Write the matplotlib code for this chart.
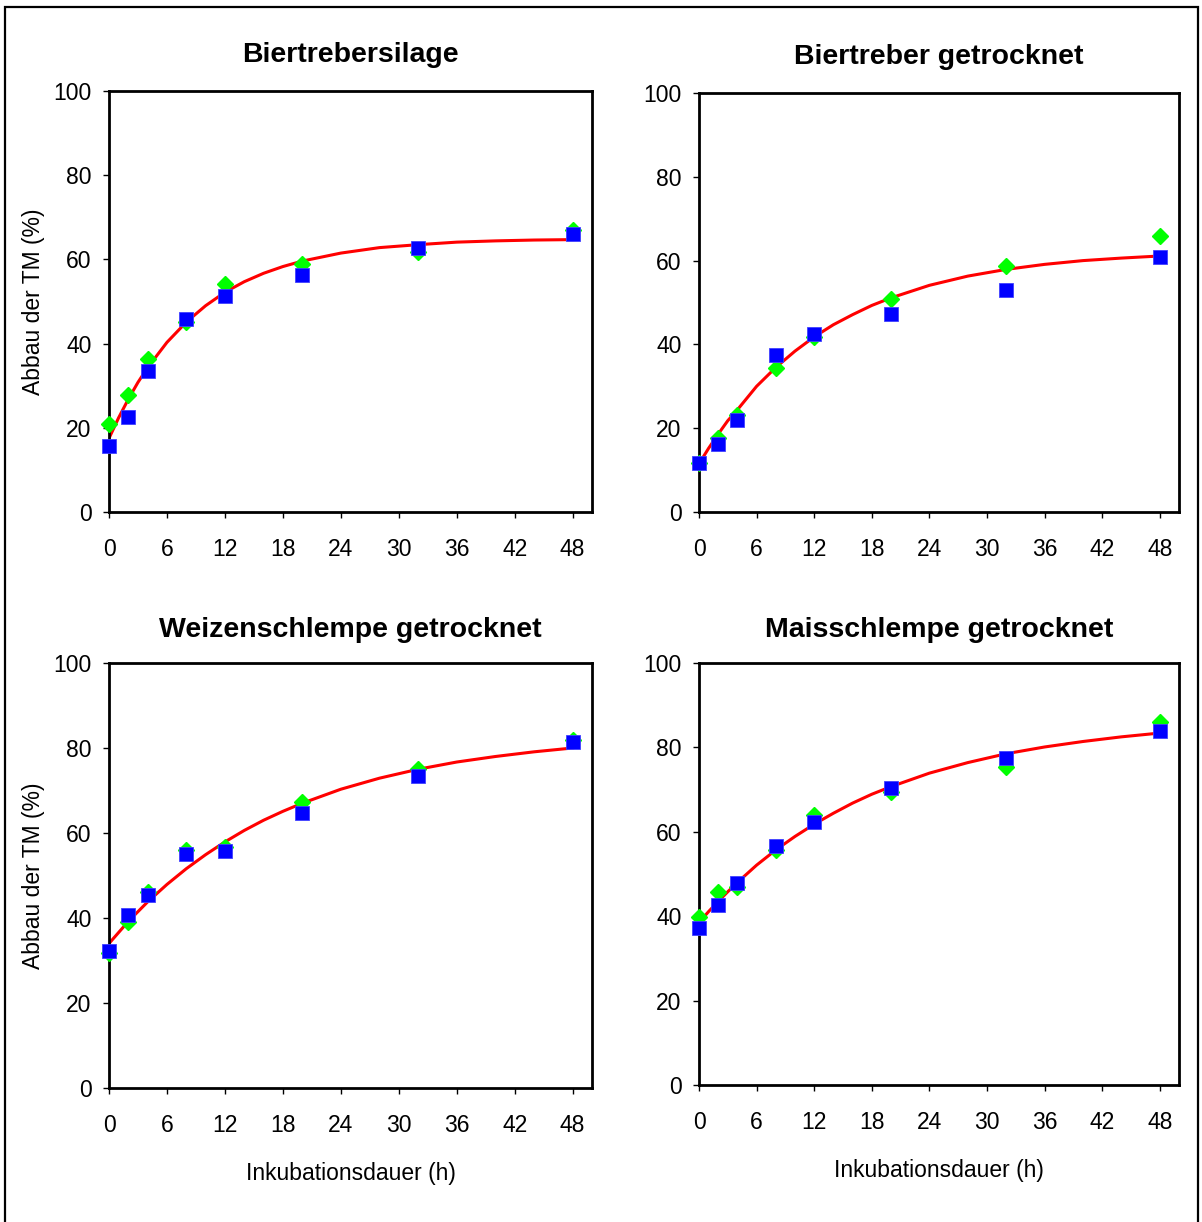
import matplotlib
matplotlib.use("Agg")
import matplotlib.pyplot as plt
from matplotlib.patches import Rectangle

plt.rcParams['font.family'] = ['Liberation Sans', 'DejaVu Sans']

# measured hours and degradation of dry matter (%)
hours = [0, 2, 4, 8, 12, 20, 32, 48]
titles = ["Biertrebersilage", "Biertreber getrocknet",
          "Weizenschlempe getrocknet", "Maisschlempe getrocknet"]

green_vals = [
    [20.8, 27.8, 36.3, 45.2, 54.1, 58.9, 61.8, 67.0],
    [11.6, 17.6, 23.1, 34.4, 41.7, 50.9, 58.6, 65.9],
    [31.7, 39.1, 46.2, 56.0, 56.8, 67.4, 75.0, 82.0],
    [39.9, 45.8, 47.0, 55.7, 64.0, 69.5, 75.4, 86.1],
]
blue_vals = [
    [15.7, 22.6, 33.5, 45.8, 51.2, 56.4, 62.6, 66.0],
    [11.6, 16.3, 22.0, 37.5, 42.6, 47.3, 53.1, 60.9],
    [32.2, 40.7, 45.3, 55.1, 55.8, 64.8, 73.3, 81.3],
    [37.1, 42.7, 47.8, 56.6, 62.4, 70.3, 77.6, 84.0],
]

# fitted curve
curve_t = [0, 1, 2, 3, 4, 6, 8, 10, 12, 14, 16, 18, 20, 24, 28, 32, 36, 40, 44, 48]
curve_vals = [
    [17.5, 22.4, 26.8, 30.8, 34.3, 40.3, 45.1, 49.0, 52.2, 54.7, 56.7, 58.3,
     59.6, 61.5, 62.8, 63.5, 64.1, 64.4, 64.6, 64.7],
    [11.5, 15.2, 18.6, 21.8, 24.4, 30.0, 34.5, 38.4, 41.8, 44.7, 47.1, 49.3,
     51.1, 54.1, 56.3, 57.9, 59.1, 60.0, 60.6, 61.1],
    [34.0, 36.6, 39.2, 41.5, 43.8, 47.9, 51.6, 54.9, 57.9, 60.6, 63.0, 65.1,
     67.0, 70.3, 72.9, 75.0, 76.7, 78.0, 79.1, 80.0],
    [38.5, 41.1, 43.5, 45.8, 48.0, 52.1, 55.7, 58.9, 61.8, 64.4, 66.8, 68.9,
     70.7, 73.9, 76.4, 78.5, 80.1, 81.4, 82.5, 83.4],
]

W, H = 1202, 1222
fig = plt.figure(figsize=(W / 100, H / 100), dpi=100)

# axes boxes in pixels: left, top, right, bottom
boxes = [(109, 91, 592, 512), (699, 93, 1179, 512),
         (109, 663, 592, 1088), (699, 663, 1179, 1085)]

for i, (l, t, r, b) in enumerate(boxes):
    ax = fig.add_axes([l / W, (H - b) / H, (r - l) / W, (b - t) / H])
    ax.plot(curve_t, curve_vals[i], color='#ff0000', lw=2.2, zorder=2)
    ax.plot(hours, green_vals[i], 'D', color='#00ff00', ms=8.4, mec='#00ff00', zorder=3, clip_on=False)
    ax.plot(hours, blue_vals[i], 's', color='#0000ff', ms=10.5, mec='#4040ff', mew=0.6, zorder=4, clip_on=False)
    ax.set_xlim(0, 50)
    ax.set_ylim(0, 100)
    ax.set_xticks(range(0, 49, 6))
    ax.set_yticks(range(0, 101, 20))
    for s in ax.spines.values():
        s.set_linewidth(2.0)
    ax.tick_params(axis='both', direction='out', length=4.5, width=1.0, labelsize=16.5)
    ax.tick_params(axis='x', pad=14)
    ax.tick_params(axis='y', pad=8)
    ax.set_title(titles[i], fontsize=20.5, fontweight='bold', pad=21 if i < 2 else 19)
    if i % 2 == 0:
        ax.set_ylabel("Abbau der TM (%)", fontsize=16.5, labelpad=6)
    if i >= 2:
        ax.set_xlabel("Inkubationsdauer (h)", fontsize=16.5, labelpad=18)

# outer frame, open at the bottom edge
fig.patches.append(Rectangle((5 / W, -0.02), (1198 - 5) / W, (H - 7) / H + 0.02,
                             transform=fig.transFigure, fill=False,
                             edgecolor='black', lw=1.6))

fig.savefig("out.png", dpi=100)
